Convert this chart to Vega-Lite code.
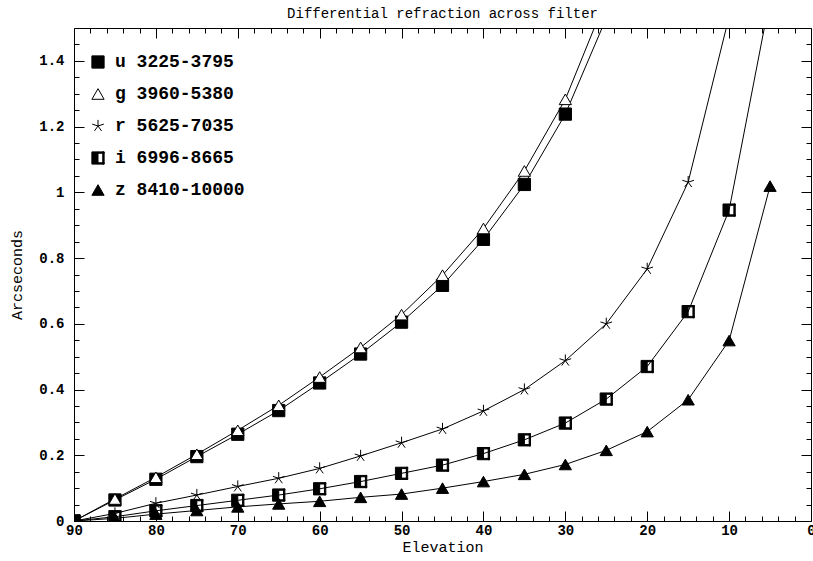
{
  "$schema": "https://vega.github.io/schema/vega-lite/v6.json",
  "width": 737,
  "height": 493,
  "autosize": "none",
  "padding": {"left": 74, "top": 28, "right": 2, "bottom": 40},
  "background": "white",
  "title": {"text": "Differential refraction across filter", "font": "Liberation Mono", "fontSize": 14, "fontWeight": "normal", "color": "black", "offset": 0, "dy": 25, "anchor": "middle"},
  "config": {
    "view": {"stroke": "black", "strokeWidth": 1},
    "axis": {"domain": false, "labelColor": "black", "titleColor": "black", "grid": false, "labelFont": "Liberation Mono", "labelFontSize": 14, "labelFontWeight": "bold", "titleFont": "Liberation Mono", "titleFontSize": 15, "titleFontWeight": "normal", "labelFlush": false, "labelOverlap": false},
    "legend": {"labelFont": "Liberation Mono", "labelFontSize": 18, "labelFontWeight": "bold", "labelColor": "black", "symbolSize": 150, "symbolStrokeWidth": 1, "rowPadding": 14, "labelOffset": 8}
  },
  "resolve": {"axis": {"x": "independent", "y": "independent"}},
  "data": {"values": [
    {"band": "u 3225-3795", "elev": 90, "val": 0},
    {"band": "u 3225-3795", "elev": 85, "val": 0.064},
    {"band": "u 3225-3795", "elev": 80, "val": 0.127},
    {"band": "u 3225-3795", "elev": 75, "val": 0.196},
    {"band": "u 3225-3795", "elev": 70, "val": 0.264},
    {"band": "u 3225-3795", "elev": 65, "val": 0.336},
    {"band": "u 3225-3795", "elev": 60, "val": 0.42},
    {"band": "u 3225-3795", "elev": 55, "val": 0.508},
    {"band": "u 3225-3795", "elev": 50, "val": 0.605},
    {"band": "u 3225-3795", "elev": 45, "val": 0.717},
    {"band": "u 3225-3795", "elev": 40, "val": 0.857},
    {"band": "u 3225-3795", "elev": 35, "val": 1.024},
    {"band": "u 3225-3795", "elev": 30, "val": 1.238},
    {"band": "u 3225-3795", "elev": 25, "val": 1.53},
    {"band": "g 3960-5380", "elev": 90, "val": 0},
    {"band": "g 3960-5380", "elev": 85, "val": 0.067},
    {"band": "g 3960-5380", "elev": 80, "val": 0.133},
    {"band": "g 3960-5380", "elev": 75, "val": 0.203},
    {"band": "g 3960-5380", "elev": 70, "val": 0.276},
    {"band": "g 3960-5380", "elev": 65, "val": 0.352},
    {"band": "g 3960-5380", "elev": 60, "val": 0.438},
    {"band": "g 3960-5380", "elev": 55, "val": 0.528},
    {"band": "g 3960-5380", "elev": 50, "val": 0.628},
    {"band": "g 3960-5380", "elev": 45, "val": 0.748},
    {"band": "g 3960-5380", "elev": 40, "val": 0.89},
    {"band": "g 3960-5380", "elev": 35, "val": 1.065},
    {"band": "g 3960-5380", "elev": 30, "val": 1.283},
    {"band": "g 3960-5380", "elev": 25, "val": 1.59},
    {"band": "r 5625-7035", "elev": 90, "val": 0},
    {"band": "r 5625-7035", "elev": 85, "val": 0.023},
    {"band": "r 5625-7035", "elev": 80, "val": 0.054},
    {"band": "r 5625-7035", "elev": 75, "val": 0.079},
    {"band": "r 5625-7035", "elev": 70, "val": 0.105},
    {"band": "r 5625-7035", "elev": 65, "val": 0.13},
    {"band": "r 5625-7035", "elev": 60, "val": 0.16},
    {"band": "r 5625-7035", "elev": 55, "val": 0.198},
    {"band": "r 5625-7035", "elev": 50, "val": 0.238},
    {"band": "r 5625-7035", "elev": 45, "val": 0.28},
    {"band": "r 5625-7035", "elev": 40, "val": 0.335},
    {"band": "r 5625-7035", "elev": 35, "val": 0.4},
    {"band": "r 5625-7035", "elev": 30, "val": 0.488},
    {"band": "r 5625-7035", "elev": 25, "val": 0.6},
    {"band": "r 5625-7035", "elev": 20, "val": 0.767},
    {"band": "r 5625-7035", "elev": 15, "val": 1.031},
    {"band": "r 5625-7035", "elev": 10, "val": 1.535},
    {"band": "i 6996-8665", "elev": 90, "val": 0},
    {"band": "i 6996-8665", "elev": 85, "val": 0.013},
    {"band": "i 6996-8665", "elev": 80, "val": 0.031},
    {"band": "i 6996-8665", "elev": 75, "val": 0.047},
    {"band": "i 6996-8665", "elev": 70, "val": 0.063},
    {"band": "i 6996-8665", "elev": 65, "val": 0.079},
    {"band": "i 6996-8665", "elev": 60, "val": 0.098},
    {"band": "i 6996-8665", "elev": 55, "val": 0.12},
    {"band": "i 6996-8665", "elev": 50, "val": 0.145},
    {"band": "i 6996-8665", "elev": 45, "val": 0.17},
    {"band": "i 6996-8665", "elev": 40, "val": 0.205},
    {"band": "i 6996-8665", "elev": 35, "val": 0.247},
    {"band": "i 6996-8665", "elev": 30, "val": 0.298},
    {"band": "i 6996-8665", "elev": 25, "val": 0.371},
    {"band": "i 6996-8665", "elev": 20, "val": 0.47},
    {"band": "i 6996-8665", "elev": 15, "val": 0.637},
    {"band": "i 6996-8665", "elev": 10, "val": 0.946},
    {"band": "i 6996-8665", "elev": 5, "val": 1.59},
    {"band": "z 8410-10000", "elev": 90, "val": 0},
    {"band": "z 8410-10000", "elev": 85, "val": 0.008},
    {"band": "z 8410-10000", "elev": 80, "val": 0.021},
    {"band": "z 8410-10000", "elev": 75, "val": 0.032},
    {"band": "z 8410-10000", "elev": 70, "val": 0.043},
    {"band": "z 8410-10000", "elev": 65, "val": 0.052},
    {"band": "z 8410-10000", "elev": 60, "val": 0.06},
    {"band": "z 8410-10000", "elev": 55, "val": 0.072},
    {"band": "z 8410-10000", "elev": 50, "val": 0.082},
    {"band": "z 8410-10000", "elev": 45, "val": 0.1},
    {"band": "z 8410-10000", "elev": 40, "val": 0.12},
    {"band": "z 8410-10000", "elev": 35, "val": 0.142},
    {"band": "z 8410-10000", "elev": 30, "val": 0.172},
    {"band": "z 8410-10000", "elev": 25, "val": 0.215},
    {"band": "z 8410-10000", "elev": 20, "val": 0.272},
    {"band": "z 8410-10000", "elev": 15, "val": 0.369},
    {"band": "z 8410-10000", "elev": 10, "val": 0.549},
    {"band": "z 8410-10000", "elev": 5, "val": 1.019}
  ]},
  "layer": [
    {
      "mark": {"type": "line", "color": "black", "strokeWidth": 1, "clip": true},
      "encoding": {
        "x": {"field": "elev", "type": "quantitative",
          "scale": {"domain": [0, 90], "reverse": true, "nice": false, "zero": false},
          "axis": {"orient": "bottom", "title": "Elevation", "titlePadding": 2,
            "values": [0,10,20,30,40,50,60,70,80,90],
            "offset": -10, "ticks": true, "tickSize": 10, "tickColor": "#000000", "tickWidth": 1, "tickOpacity": 1, "labelPadding": 2, "zindex": 2}},
        "y": {"field": "val", "type": "quantitative",
          "scale": {"domain": [0, 1.5], "nice": false, "zero": true},
          "axis": {"orient": "left", "title": "Arcseconds", "titlePadding": 14, "format": "~g",
            "values": [0,0.2,0.4,0.6,0.8,1,1.2,1.4],
            "offset": -10, "ticks": true, "tickSize": 10, "tickColor": "#000000", "tickWidth": 1, "tickOpacity": 1, "labelPadding": 10, "zindex": 2}},
        "detail": {"field": "band"}
      }
    },
    {
      "mark": {"type": "point", "filled": true, "opacity": 0},
      "encoding": {
        "x": {"field": "elev", "type": "quantitative",
          "axis": {"orient": "bottom", "title": null, "labels": false,
            "values": [2,4,6,8,12,14,16,18,22,24,26,28,32,34,36,38,42,44,46,48,52,54,56,58,62,64,66,68,72,74,76,78,82,84,86,88],
            "offset": -5, "ticks": true, "tickSize": 5, "tickColor": "#000000", "tickWidth": 1, "zindex": 2}},
        "y": {"field": "val", "type": "quantitative",
          "axis": {"orient": "left", "title": null, "labels": false,
            "values": [0.05,0.1,0.15,0.25,0.3,0.35,0.45,0.5,0.55,0.65,0.7,0.75,0.85,0.9,0.95,1.05,1.1,1.15,1.25,1.3,1.35,1.45],
            "offset": -5, "ticks": true, "tickSize": 5, "tickColor": "#000000", "tickWidth": 1, "zindex": 2}}
      }
    },
    {
      "mark": {"type": "point", "filled": true, "opacity": 0},
      "encoding": {
        "x": {"field": "elev", "type": "quantitative",
          "axis": {"orient": "top", "title": null, "labels": false,
            "values": [2,4,6,8,12,14,16,18,22,24,26,28,32,34,36,38,42,44,46,48,52,54,56,58,62,64,66,68,72,74,76,78,82,84,86,88],
            "offset": -5, "ticks": true, "tickSize": 5, "tickColor": "#000000", "tickWidth": 1, "zindex": 2}},
        "y": {"field": "val", "type": "quantitative",
          "axis": {"orient": "right", "title": null, "labels": false,
            "values": [0.05,0.1,0.15,0.25,0.3,0.35,0.45,0.5,0.55,0.65,0.7,0.75,0.85,0.9,0.95,1.05,1.1,1.15,1.25,1.3,1.35,1.45],
            "offset": -5, "ticks": true, "tickSize": 5, "tickColor": "#000000", "tickWidth": 1, "zindex": 2}}
      }
    },
    {
      "mark": {"type": "point", "filled": true, "strokeWidth": 1, "opacity": 1, "clip": true},
      "encoding": {
        "x": {"field": "elev", "type": "quantitative",
          "axis": {"orient": "top", "title": null, "labels": false,
            "values": [0,10,20,30,40,50,60,70,80,90],
            "offset": -10, "ticks": true, "tickSize": 10, "tickColor": "#000000", "tickWidth": 1, "zindex": 2}},
        "y": {"field": "val", "type": "quantitative",
          "axis": {"orient": "right", "title": null, "labels": false,
            "values": [0,0.2,0.4,0.6,0.8,1,1.2,1.4],
            "offset": -10, "ticks": true, "tickSize": 10, "tickColor": "#000000", "tickWidth": 1, "zindex": 2}},
        "shape": {"field": "band", "type": "nominal",
          "scale": {"domain": ["u 3225-3795", "g 3960-5380", "r 5625-7035", "i 6996-8665", "z 8410-10000"],
            "range": ["square", "triangle-up", "M0,0L0,-1M0,0L0.951,-0.309M0,0L0.588,0.809M0,0L-0.588,0.809M0,0L-0.951,-0.309", "M-1,-1L0,-1L0,1L-1,1Z M0,-1L1,-1L1,-0.78L0,-0.78Z M0.78,-1L1,-1L1,1L0.78,1Z M0,0.78L1,0.78L1,1L0,1Z", "triangle-up"]},
          "legend": {"title": null, "orient": "none", "legendX": 15, "legendY": 25}},
        "fill": {"field": "band", "type": "nominal",
          "scale": {"domain": ["u 3225-3795", "g 3960-5380", "r 5625-7035", "i 6996-8665", "z 8410-10000"],
            "range": ["black", "white", "transparent", "black", "black"]},
          "legend": {"title": null, "orient": "none", "legendX": 15, "legendY": 25}},
        "stroke": {"field": "band", "type": "nominal",
          "scale": {"domain": ["u 3225-3795", "g 3960-5380", "r 5625-7035", "i 6996-8665", "z 8410-10000"],
            "range": ["black", "black", "black", "black", "black"]},
          "legend": {"title": null, "orient": "none", "legendX": 15, "legendY": 25}},
        "size": {"value": 150}
      }
    }
  ]
}
